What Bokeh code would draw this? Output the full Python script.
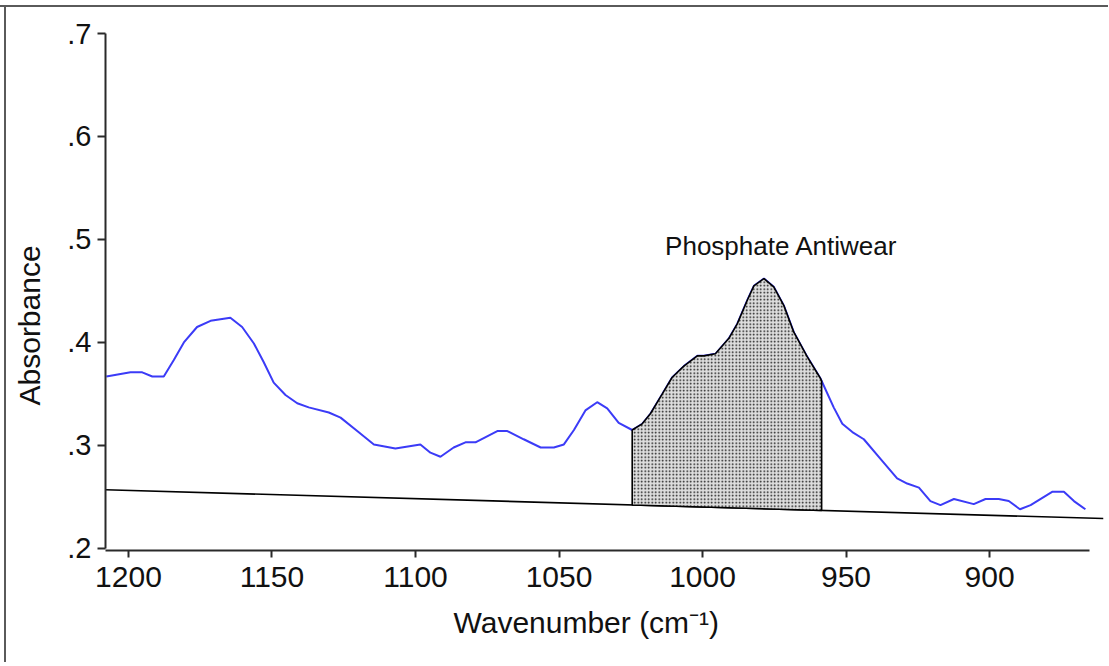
import numpy as np
from bokeh.plotting import figure
from bokeh.models import Range1d, FixedTicker, Label, Title
from bokeh.embed import file_html
from bokeh.resources import INLINE

# ---- data ----
wavenumber = [1207.7, 1199.3, 1195.2, 1191.7, 1187.7, 1184.2, 1180.7, 1176.1, 1171.4, 1164.5,
              1160.4, 1156.3, 1152.9, 1149.4, 1145.3, 1141.2, 1137.2, 1130.2, 1126.1, 1120.3,
              1114.5, 1107.0, 1098.3, 1094.8, 1091.3, 1086.7, 1082.6, 1079.1, 1071.5, 1068.0,
              1062.3, 1056.4, 1051.8, 1048.3, 1044.8, 1040.8, 1036.7, 1033.2, 1029.2, 1024.5,
              1021.0, 1018.1, 1014.0, 1010.6, 1006.5, 1001.8, 999.5, 995.5, 990.8, 987.9,
              984.4, 982.1, 978.6, 975.2, 971.7, 968.2, 963.5, 958.9, 954.3, 951.3,
              947.8, 943.8, 938.0, 932.2, 928.7, 924.6, 920.6, 917.1, 912.4, 905.5,
              901.4, 896.8, 893.3, 889.4, 885.7, 878.2, 874.1, 870.6, 866.6]
absorbance = [0.367, 0.371, 0.371, 0.367, 0.367, 0.383, 0.400, 0.415, 0.421, 0.424,
              0.415, 0.399, 0.381, 0.361, 0.349, 0.341, 0.337, 0.332, 0.327, 0.314,
              0.301, 0.297, 0.301, 0.293, 0.289, 0.298, 0.303, 0.303, 0.314, 0.314,
              0.306, 0.298, 0.298, 0.301, 0.315, 0.334, 0.342, 0.336, 0.322, 0.315,
              0.321, 0.331, 0.350, 0.366, 0.377, 0.387, 0.387, 0.389, 0.404, 0.418,
              0.441, 0.455, 0.462, 0.454, 0.436, 0.410, 0.386, 0.365, 0.337, 0.321,
              0.313, 0.306, 0.287, 0.268, 0.263, 0.259, 0.246, 0.242, 0.248, 0.243,
              0.248, 0.248, 0.246, 0.238, 0.242, 0.255, 0.255, 0.246, 0.238]
baseline_wavenumber = [1208.0, 860.3]
baseline_absorbance = [0.257, 0.229]
band_limits = [1024.5, 958.5]
band_label = "Phosphate Antiwear"
band_label_pos = [972.5, 0.494]

x_ticks = [1200, 1150, 1100, 1050, 1000, 950, 900]
x_tick_labels = ["1200", "1150", "1100", "1050", "1000", "950", "900"]
y_ticks = [0.2, 0.3, 0.4, 0.5, 0.6, 0.7]
y_tick_labels = [".2", ".3", ".4", ".5", ".6", ".7"]
x_title = "Wavenumber (cm\u207b\u00b9)"
y_title = "Absorbance"

FONT = "Liberation Sans"
FRAME_COLOR = "#5a5a5a"

p = figure(width=1123, height=662, output_backend="svg", toolbar_location=None,
           x_range=Range1d(1208.0, 860.3), y_range=Range1d(0.198, 0.7),
           min_border_left=120, min_border_right=5, min_border_top=33, min_border_bottom=112,
           styles={"margin-left": "-15px", "margin-top": "0px",
                   "background-image": f"linear-gradient({FRAME_COLOR}, {FRAME_COLOR}), "
                                       f"linear-gradient({FRAME_COLOR}, {FRAME_COLOR})",
                   "background-size": "2px 100%, 100% 2px",
                   "background-position": "19px 5px, 0px 5px",
                   "background-repeat": "no-repeat"})
p.outline_line_color = None
p.grid.visible = False
p.background_fill_color = None
p.border_fill_color = None

# axes
for ax in (p.xaxis[0], p.yaxis[0]):
    ax.axis_line_color = "#2a2a2a"
    ax.axis_line_width = 2
    ax.major_tick_line_color = "#2a2a2a"
    ax.major_tick_line_width = 2
    ax.major_tick_in = 0
    ax.minor_tick_line_color = None
    ax.major_label_text_font = FONT
    ax.major_label_text_color = "#111111"

p.xaxis.ticker = FixedTicker(ticks=x_ticks)
p.xaxis.major_label_overrides = {t: l for t, l in zip(x_ticks, x_tick_labels)}
p.xaxis.bounds = (865.2, 1208.0)
p.xaxis.major_tick_out = 7
p.xaxis.major_label_standoff = 9
p.xaxis.major_label_text_font_size = "30px"

p.yaxis.ticker = FixedTicker(ticks=y_ticks)
p.yaxis.major_label_overrides = {t: l for t, l in zip(y_ticks, y_tick_labels)}
p.yaxis.bounds = (0.2, 0.7)
p.yaxis.major_tick_out = 8
p.yaxis.major_label_standoff = 6
p.yaxis.major_label_text_font_size = "29px"

# spectrum
p.line(wavenumber, absorbance, line_color="#3b3bf7", line_width=2)

# baseline
p.line(baseline_wavenumber, baseline_absorbance, line_color="black", line_width=1.6)

# shaded band (curve between band limits down to baseline)
w = np.array(wavenumber)
a = np.array(absorbance)
hi, lo = band_limits
mask = (w <= hi) & (w >= lo)
top_w = np.concatenate([[hi], w[mask], [lo]])
top_a = np.interp(top_w, w[::-1], a[::-1])
bw = np.array(baseline_wavenumber)
ba = np.array(baseline_absorbance)
base_lo = np.interp(lo, bw[::-1], ba[::-1])
base_hi = np.interp(hi, bw[::-1], ba[::-1])
poly_x = list(top_w) + [lo, hi]
poly_y = list(top_a) + [base_lo, base_hi]
p.patch(poly_x, poly_y, fill_color="#dedede", hatch_pattern="dot", hatch_color="#111111",
        hatch_scale=3.5, hatch_weight=1, line_color="black", line_width=1.6)

p.add_layout(Label(x=band_label_pos[0], y=band_label_pos[1], text=band_label,
                   text_font=FONT, text_font_size="26px", text_align="center",
                   text_baseline="alphabetic", text_color="#111111"))

# axis titles as side titles
p.add_layout(Title(text=x_title, align="left", offset=348, standoff=29,
                   text_font=FONT, text_font_size="30px", text_font_style="normal",
                   text_color="#111111"), "below")
p.add_layout(Title(text=y_title, align="left", offset=145, standoff=38,
                   text_font=FONT, text_font_size="30px", text_font_style="normal",
                   text_color="#111111"), "left")

open("out.html", "w").write(file_html(p, INLINE))
